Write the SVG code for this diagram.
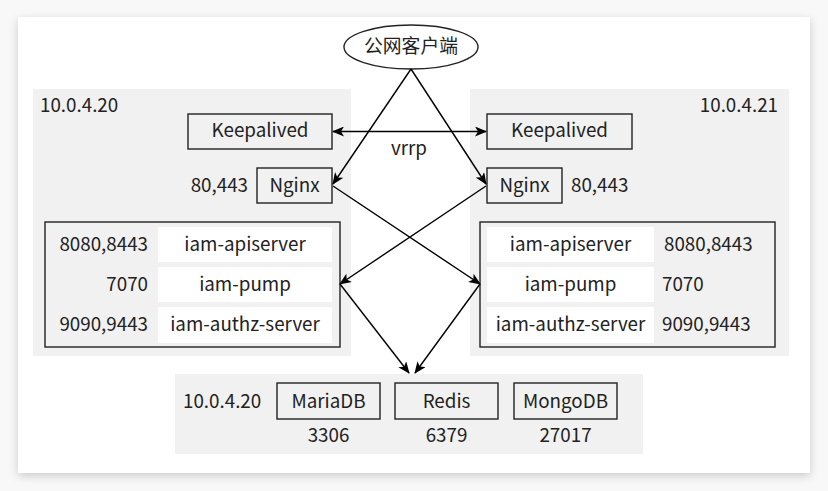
<svg xmlns="http://www.w3.org/2000/svg" width="828" height="491" viewBox="0 0 828 491">
<style>
text{font-family:"Noto Sans CJK SC","Noto Sans",sans-serif;font-size:18.8px;fill:#222}
.panel{fill:#f1f1f1}
.box{fill:#f1f1f1;stroke:#222;stroke-width:1.4}
.cell{fill:#ffffff}
.c{text-anchor:middle}
.r{text-anchor:end}
.ln{stroke:#000;stroke-width:1.4;fill:none}
</style>
<defs>
<filter id="sh" x="-5%" y="-5%" width="110%" height="115%">
<feDropShadow dx="0" dy="3" stdDeviation="4" flood-color="#000" flood-opacity="0.18"/>
</filter>
<marker id="ah" viewBox="0 0 12 10" refX="11" refY="5" markerWidth="12" markerHeight="10" markerUnits="userSpaceOnUse" orient="auto-start-reverse">
<path d="M0,0 L12,5 L0,10 L3,5 Z" fill="#000"/>
</marker>
</defs>
<rect x="0" y="0" width="828" height="491" fill="#f8f8f8"/>
<rect x="18" y="17" width="792" height="456" fill="#fff" filter="url(#sh)"/>

<g id="panel-left"><rect class="panel" x="33" y="89" width="318" height="267"/><text x="40" y="112">10.0.4.20</text></g>
<g id="panel-right"><rect class="panel" x="470" y="89" width="319" height="267"/><text class="r" x="778" y="112">10.0.4.21</text></g>
<g id="panel-db"><rect class="panel" x="175" y="374" width="468" height="80"/><text x="183" y="408">10.0.4.20</text></g>

<g id="client"><ellipse cx="411" cy="47" rx="67" ry="22" fill="#fff" stroke="#222" stroke-width="1.4"/><text class="c" x="411" y="53">公网客户端</text></g>

<g id="keepalived-left"><rect class="box" x="188" y="114" width="144" height="35"/><text class="c" x="260" y="137">Keepalived</text></g>
<g id="keepalived-right"><rect class="box" x="487" y="114" width="145" height="35"/><text class="c" x="559.5" y="137">Keepalived</text></g>

<g id="nginx-left"><rect class="box" x="257" y="168" width="75" height="35"/><text class="c" x="294.5" y="192">Nginx</text><text class="r" x="248" y="192">80,443</text></g>
<g id="nginx-right"><rect class="box" x="487" y="168" width="75" height="35"/><text class="c" x="524.5" y="192">Nginx</text><text x="571" y="192">80,443</text></g>

<g id="services-left">
<rect class="box" x="45" y="222" width="295" height="125"/>
<rect class="cell" x="158" y="227" width="174" height="35"/>
<rect class="cell" x="158" y="267" width="174" height="35"/>
<rect class="cell" x="158" y="307" width="174" height="36"/>
<text class="c" x="245" y="251">iam-apiserver</text>
<text class="c" x="245" y="291">iam-pump</text>
<text class="c" x="245" y="331">iam-authz-server</text>
<text class="r" x="148" y="251">8080,8443</text>
<text class="r" x="148" y="291">7070</text>
<text class="r" x="148" y="331">9090,9443</text>
</g>

<g id="services-right">
<rect class="box" x="480" y="222" width="295" height="125"/>
<rect class="cell" x="487" y="227" width="167" height="35"/>
<rect class="cell" x="487" y="267" width="167" height="35"/>
<rect class="cell" x="487" y="307" width="167" height="36"/>
<text class="c" x="570.5" y="251">iam-apiserver</text>
<text class="c" x="570.5" y="291">iam-pump</text>
<text class="c" x="570.5" y="331">iam-authz-server</text>
<text x="664" y="251">8080,8443</text>
<text x="662" y="291">7070</text>
<text x="662" y="331">9090,9443</text>
</g>

<g id="mariadb"><rect class="box" x="277" y="383" width="103" height="36"/><text class="c" x="328.5" y="408">MariaDB</text><text class="c" x="328.5" y="442">3306</text></g>
<g id="redis"><rect class="box" x="395" y="383" width="103" height="36"/><text class="c" x="446.5" y="408">Redis</text><text class="c" x="446.5" y="442">6379</text></g>
<g id="mongodb"><rect class="box" x="514" y="383" width="103" height="36"/><text class="c" x="565.5" y="408">MongoDB</text><text class="c" x="565.5" y="442">27017</text></g>

<g id="connectors">
<line class="ln" x1="333" y1="131.5" x2="486" y2="131.5" marker-start="url(#ah)" marker-end="url(#ah)"/>
<text class="c" x="409" y="155">vrrp</text>
<line class="ln" x1="411" y1="69" x2="333" y2="184" marker-end="url(#ah)"/>
<line class="ln" x1="411" y1="69" x2="486" y2="184" marker-end="url(#ah)"/>
<line class="ln" x1="333" y1="186" x2="480" y2="284" marker-end="url(#ah)"/>
<line class="ln" x1="486" y1="186" x2="340" y2="284" marker-end="url(#ah)"/>
<line class="ln" x1="340" y1="284" x2="409" y2="373" marker-end="url(#ah)"/>
<line class="ln" x1="480" y1="284" x2="415" y2="373" marker-end="url(#ah)"/>
</g>
</svg>
